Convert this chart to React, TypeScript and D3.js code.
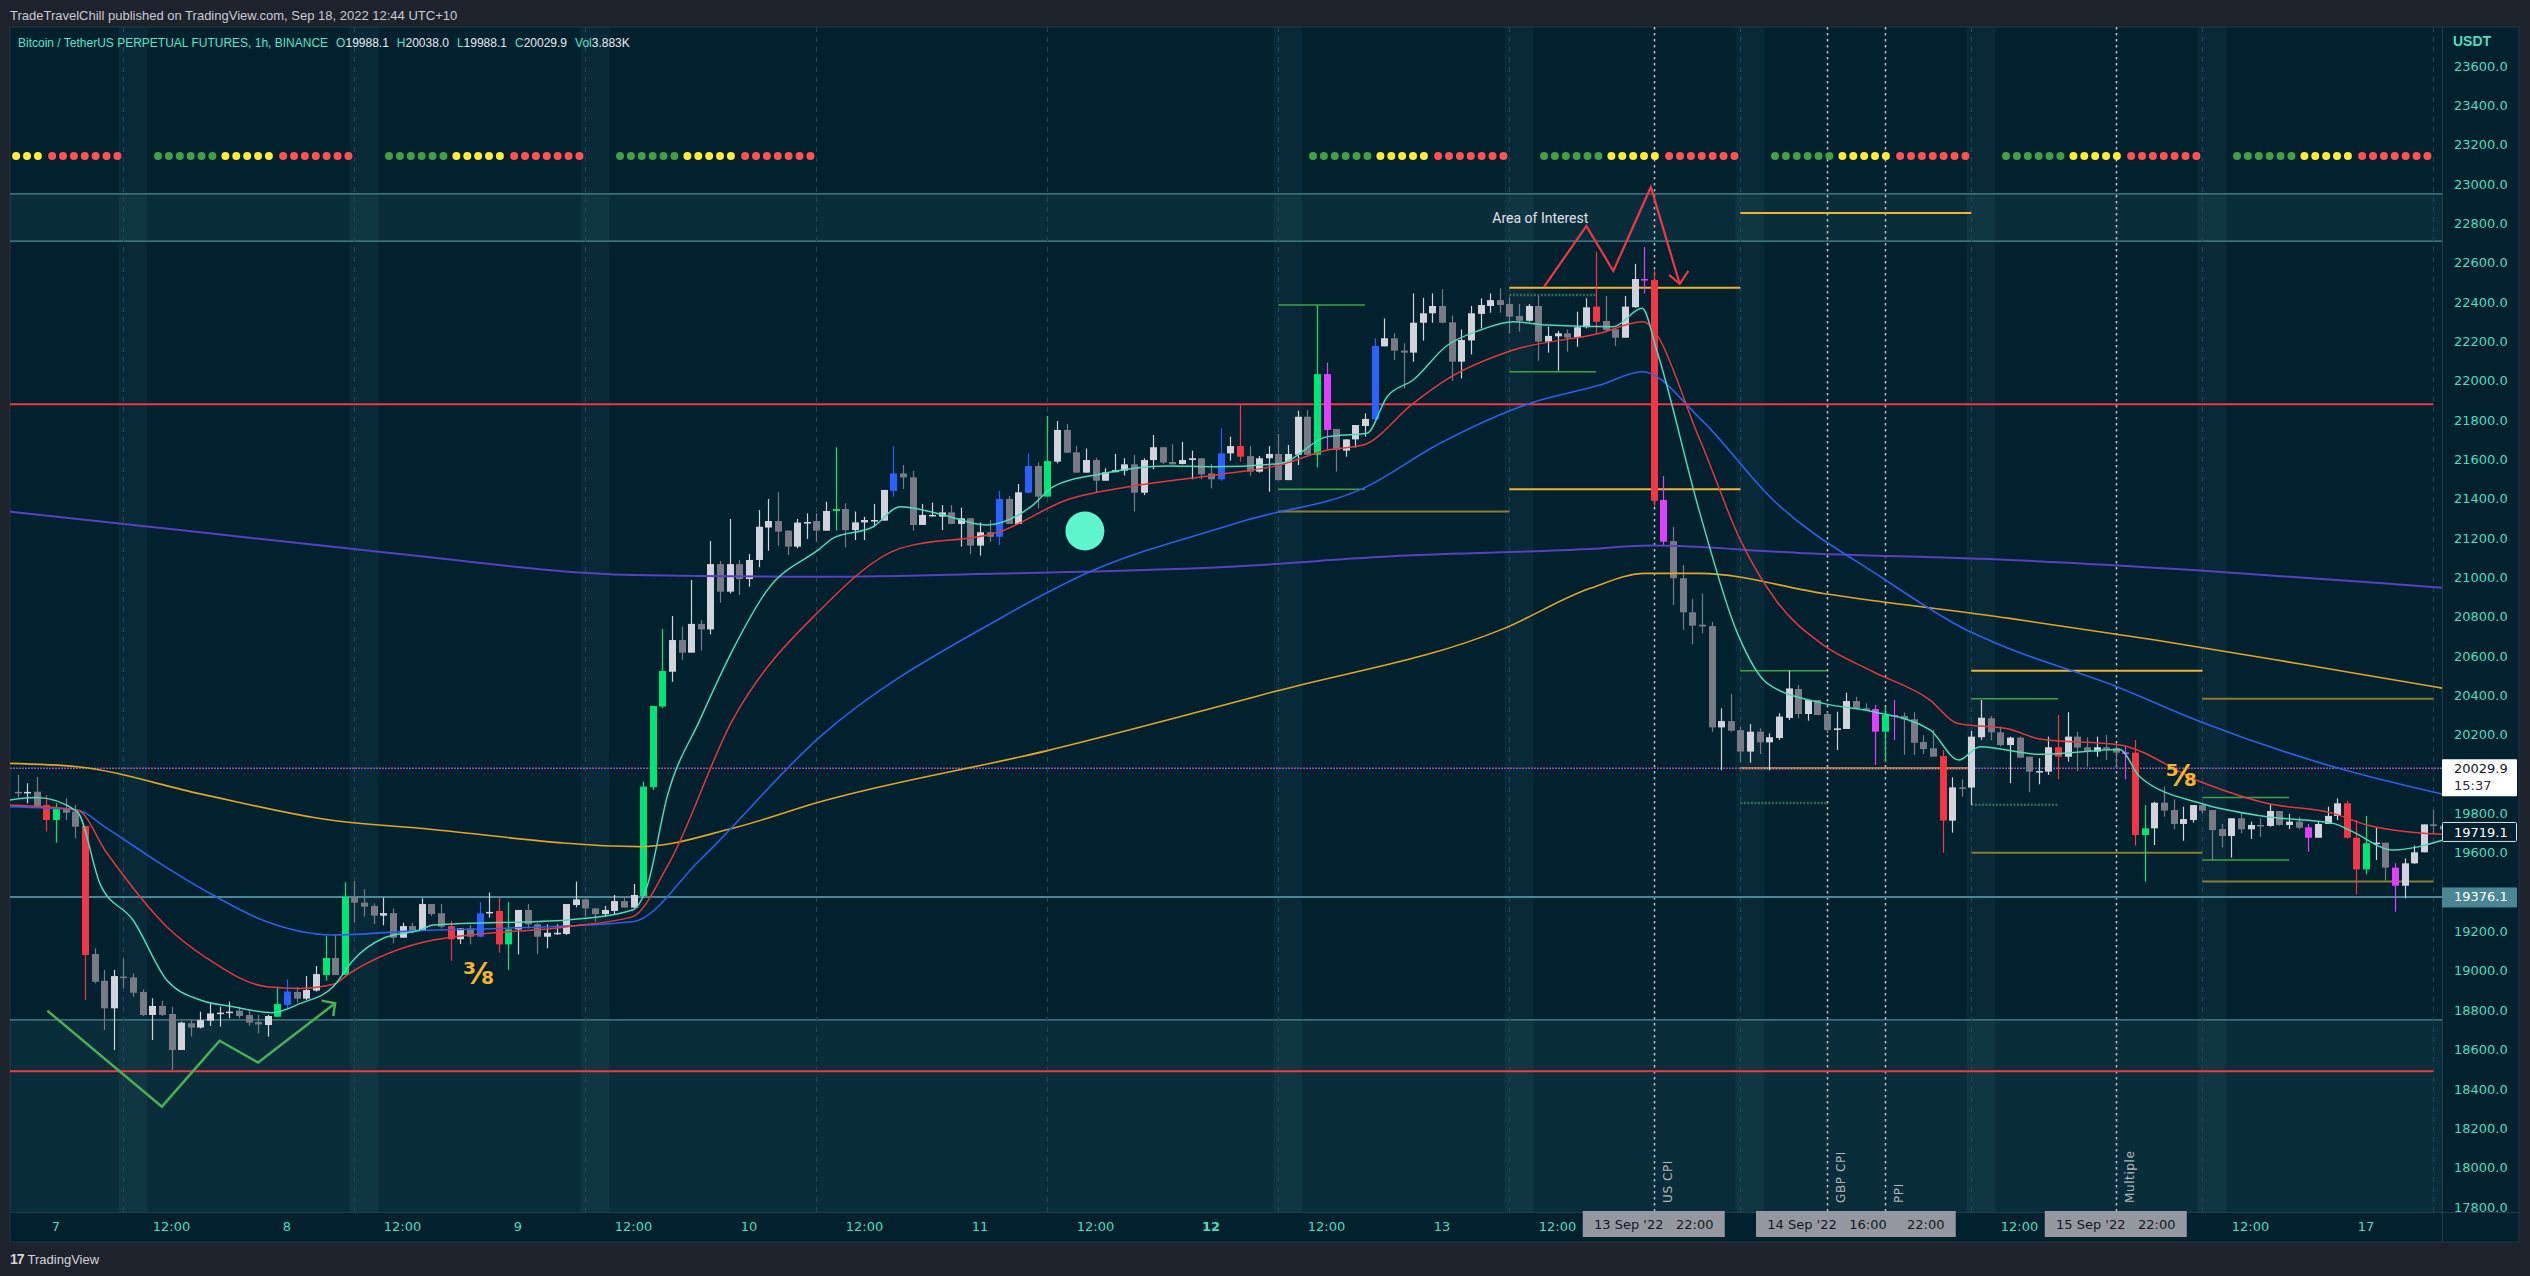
import { useEffect, useRef } from 'react';
import * as d3 from 'd3';

const W = 2530;
const H = 1276;

// hourly bars, first one is Sep 6 20:00 (hour -4 counted from Sep 7 00:00)
const FIRST_HOUR = -4;
// [open, high, low, close, kind]  w = up, g = down, R/G/B/M = highlighted bars
const candles: [number, number, number, number, string][] = [
  [19910, 19996, 19880, 19905, 'g'], [19904, 19954, 19852, 19910, 'w'], [19911, 19987, 19835, 19835, 'g'], [19843, 19894, 19708, 19767, 'R'],
  [19767, 19852, 19652, 19826, 'G'], [19826, 19877, 19767, 19804, 'g'], [19810, 19843, 19674, 19733, 'g'], [19737, 19737, 18852, 19081, 'R'],
  [19086, 19115, 18937, 18945, 'g'], [18950, 19005, 18700, 18810, 'g'], [18810, 19005, 18598, 18974, 'w'], [18971, 19064, 18911, 18968, 'g'],
  [18967, 18988, 18869, 18889, 'g'], [18893, 18906, 18771, 18776, 'g'], [18776, 18861, 18649, 18822, 'w'], [18822, 18847, 18771, 18776, 'g'],
  [18781, 18818, 18496, 18598, 'g'], [18598, 18742, 18598, 18737, 'w'], [18734, 18750, 18666, 18712, 'g'], [18712, 18793, 18708, 18750, 'w'],
  [18747, 18835, 18720, 18784, 'w'], [18786, 18818, 18717, 18788, 'w'], [18790, 18844, 18759, 18793, 'w'], [18798, 18818, 18759, 18771, 'g'],
  [18776, 18798, 18720, 18737, 'g'], [18740, 18776, 18683, 18728, 'g'], [18725, 18776, 18666, 18771, 'w'], [18767, 18920, 18767, 18832, 'G'],
  [18827, 18957, 18810, 18895, 'B'], [18893, 18920, 18839, 18859, 'g'], [18859, 18974, 18852, 18903, 'w'], [18900, 19025, 18895, 18984, 'w'],
  [18979, 19177, 18950, 19066, 'G'], [19066, 19186, 18979, 18979, 'g'], [18979, 19450, 18979, 19377, 'G'], [19377, 19457, 19245, 19347, 'g'],
  [19347, 19415, 19276, 19327, 'g'], [19330, 19343, 19238, 19281, 'g'], [19281, 19372, 19232, 19294, 'w'], [19294, 19318, 19140, 19169, 'g'],
  [19169, 19245, 19169, 19228, 'w'], [19228, 19245, 19191, 19203, 'g'], [19205, 19369, 19205, 19340, 'w'], [19340, 19340, 19279, 19289, 'g'],
  [19293, 19340, 19216, 19225, 'g'], [19228, 19255, 19052, 19161, 'R'], [19161, 19216, 19137, 19216, 'w'], [19216, 19233, 19135, 19174, 'g'],
  [19174, 19350, 19171, 19293, 'B'], [19293, 19399, 19271, 19300, 'w'], [19305, 19372, 19093, 19135, 'R'], [19135, 19350, 19005, 19211, 'G'],
  [19211, 19310, 19084, 19310, 'w'], [19310, 19340, 19216, 19237, 'g'], [19237, 19242, 19086, 19174, 'g'], [19174, 19237, 19115, 19194, 'w'],
  [19190, 19237, 19183, 19194, 'w'], [19188, 19340, 19183, 19340, 'w'], [19335, 19454, 19323, 19364, 'w'], [19364, 19369, 19276, 19318, 'g'],
  [19318, 19318, 19250, 19289, 'g'], [19289, 19330, 19276, 19310, 'w'], [19305, 19386, 19288, 19355, 'w'], [19355, 19377, 19322, 19322, 'g'],
  [19322, 19442, 19322, 19386, 'w'], [19381, 19962, 19381, 19937, 'G'], [19934, 20347, 19920, 20347, 'G'], [20344, 20738, 20335, 20525, 'G'],
  [20521, 20804, 20470, 20682, 'w'], [20682, 20750, 20581, 20618, 'g'], [20618, 20987, 20618, 20764, 'w'], [20764, 20784, 20628, 20736, 'g'],
  [20736, 21185, 20711, 21068, 'w'], [21068, 21084, 20872, 20928, 'g'], [20928, 21297, 20919, 21068, 'w'], [21068, 21089, 20911, 20992, 'g'],
  [20992, 21119, 20953, 21089, 'w'], [21089, 21343, 21052, 21258, 'w'], [21254, 21399, 21136, 21287, 'w'], [21287, 21433, 21162, 21233, 'g'],
  [21238, 21240, 21114, 21157, 'g'], [21157, 21297, 21148, 21279, 'w'], [21278, 21326, 21196, 21282, 'w'], [21287, 21326, 21182, 21238, 'g'],
  [21238, 21385, 21238, 21338, 'w'], [21338, 21662, 21238, 21348, 'G'], [21348, 21377, 21153, 21241, 'g'], [21241, 21335, 21190, 21280, 'w'],
  [21280, 21309, 21190, 21292, 'w'], [21289, 21374, 21258, 21292, 'w'], [21289, 21445, 21289, 21445, 'w'], [21440, 21668, 21411, 21529, 'B'],
  [21529, 21572, 21450, 21509, 'g'], [21509, 21541, 21238, 21267, 'g'], [21267, 21374, 21267, 21318, 'w'], [21313, 21381, 21309, 21318, 'w'],
  [21309, 21368, 21241, 21331, 'w'], [21331, 21368, 21272, 21272, 'g'], [21272, 21355, 21157, 21301, 'w'], [21301, 21301, 21119, 21162, 'g'],
  [21162, 21280, 21111, 21230, 'w'], [21230, 21292, 21182, 21207, 'g'], [21207, 21440, 21165, 21399, 'B'], [21399, 21414, 21272, 21272, 'g'],
  [21272, 21475, 21272, 21433, 'w'], [21431, 21631, 21428, 21567, 'B'], [21567, 21585, 21351, 21411, 'g'], [21411, 21821, 21411, 21592, 'G'],
  [21589, 21795, 21580, 21750, 'w'], [21750, 21780, 21634, 21634, 'g'], [21636, 21668, 21533, 21533, 'g'], [21533, 21656, 21533, 21597, 'w'],
  [21597, 21609, 21433, 21492, 'g'], [21492, 21555, 21492, 21535, 'w'], [21535, 21628, 21535, 21546, 'w'], [21543, 21606, 21518, 21575, 'w'],
  [21575, 21623, 21335, 21431, 'g'], [21431, 21606, 21419, 21597, 'w'], [21597, 21724, 21550, 21662, 'w'], [21662, 21662, 21577, 21584, 'g'],
  [21587, 21677, 21575, 21575, 'g'], [21577, 21689, 21575, 21597, 'w'], [21597, 21645, 21499, 21606, 'w'], [21606, 21606, 21499, 21524, 'g'],
  [21529, 21577, 21453, 21499, 'g'], [21499, 21758, 21492, 21631, 'B'], [21631, 21716, 21594, 21668, 'w'], [21668, 21877, 21589, 21614, 'R'],
  [21617, 21668, 21517, 21538, 'g'], [21538, 21617, 21533, 21606, 'w'], [21606, 21668, 21436, 21628, 'w'], [21628, 21729, 21495, 21495, 'g'],
  [21495, 21673, 21495, 21628, 'w'], [21624, 21848, 21572, 21817, 'w'], [21817, 21851, 21624, 21624, 'g'], [21624, 22385, 21560, 22034, 'G'],
  [22034, 22092, 21651, 21750, 'M'], [21755, 21755, 21538, 21648, 'g'], [21645, 21702, 21614, 21702, 'w'], [21702, 21775, 21661, 21775, 'w'],
  [21770, 21834, 21716, 21806, 'w'], [21804, 22216, 21800, 22177, 'B'], [22175, 22317, 22175, 22216, 'w'], [22216, 22241, 22105, 22153, 'g'],
  [22153, 22190, 21961, 22143, 'g'], [22143, 22444, 22097, 22295, 'w'], [22295, 22422, 22204, 22343, 'w'], [22343, 22444, 22295, 22380, 'w'],
  [22380, 22465, 22292, 22295, 'g'], [22297, 22331, 22000, 22097, 'g'], [22097, 22261, 22012, 22207, 'w'], [22205, 22380, 22134, 22343, 'w'],
  [22340, 22419, 22266, 22385, 'w'], [22380, 22444, 22346, 22410, 'w'], [22410, 22470, 22346, 22385, 'g'], [22390, 22427, 22241, 22326, 'g'],
  [22329, 22390, 22250, 22305, 'g'], [22305, 22390, 22300, 22380, 'w'], [22380, 22431, 22102, 22199, 'g'], [22199, 22275, 22143, 22228, 'w'],
  [22226, 22254, 22051, 22241, 'w'], [22241, 22261, 22148, 22219, 'g'], [22219, 22351, 22173, 22272, 'w'], [22272, 22419, 22266, 22373, 'w'],
  [22377, 22656, 22238, 22300, 'R'], [22304, 22431, 22250, 22258, 'g'], [22262, 22262, 22177, 22219, 'g'], [22219, 22431, 22219, 22377, 'w'],
  [22374, 22594, 22370, 22517, 'w'], [22517, 22680, 22444, 22510, 'M'], [22512, 22560, 21360, 21390, 'R'], [21394, 21516, 21165, 21182, 'M'],
  [21185, 21258, 20860, 20996, 'g'], [20996, 21063, 20733, 20823, 'g'], [20823, 20891, 20660, 20755, 'g'], [20760, 20919, 20716, 20751, 'g'],
  [20753, 20775, 20216, 20238, 'g'], [20238, 20335, 20020, 20270, 'w'], [20270, 20408, 20216, 20221, 'g'], [20224, 20242, 20060, 20115, 'g'],
  [20115, 20255, 20059, 20216, 'w'], [20216, 20233, 20103, 20162, 'g'], [20162, 20208, 20020, 20188, 'w'], [20184, 20310, 20174, 20293, 'w'],
  [20286, 20526, 20275, 20436, 'w'], [20433, 20453, 20284, 20306, 'g'], [20306, 20377, 20272, 20377, 'w'], [20377, 20377, 20301, 20301, 'g'],
  [20306, 20318, 20208, 20225, 'g'], [20225, 20318, 20123, 20233, 'w'], [20230, 20415, 20230, 20372, 'w'], [20372, 20394, 20330, 20335, 'g'],
  [20335, 20360, 20326, 20330, 'g'], [20331, 20352, 20047, 20216, 'M'], [20216, 20343, 20064, 20301, 'G'], [20301, 20377, 20174, 20294, 'M'],
  [20296, 20313, 20098, 20279, 'g'], [20279, 20315, 20098, 20160, 'g'], [20164, 20199, 20103, 20128, 'g'], [20132, 20225, 20089, 20089, 'g'],
  [20092, 20123, 19601, 19764, 'R'], [19764, 19984, 19703, 19933, 'w'], [19933, 19974, 19886, 19930, 'g'], [19932, 20220, 19844, 20191, 'w'],
  [20188, 20377, 20174, 20287, 'w'], [20284, 20296, 20174, 20213, 'g'], [20213, 20242, 20140, 20148, 'g'], [20148, 20191, 19954, 20186, 'w'],
  [20186, 20191, 20084, 20084, 'g'], [20089, 20089, 19908, 20013, 'g'], [20013, 20081, 19949, 20016, 'w'], [20013, 20191, 19996, 20137, 'w'],
  [20137, 20301, 19974, 20089, 'R'], [20089, 20315, 20064, 20191, 'w'], [20191, 20216, 20016, 20135, 'g'], [20137, 20187, 20038, 20115, 'g'],
  [20115, 20191, 20089, 20137, 'w'], [20137, 20199, 20072, 20128, 'g'], [20133, 20148, 20038, 20110, 'g'], [20111, 20140, 19974, 20106, 'M'],
  [20110, 20174, 19637, 19691, 'R'], [19691, 19843, 19454, 19725, 'G'], [19725, 19860, 19640, 19855, 'w'], [19855, 19937, 19784, 19815, 'g'],
  [19818, 19872, 19721, 19747, 'g'], [19747, 19835, 19662, 19772, 'w'], [19767, 19843, 19754, 19843, 'w'], [19843, 19855, 19801, 19815, 'g'],
  [19818, 19818, 19564, 19716, 'g'], [19721, 19747, 19627, 19686, 'g'], [19686, 19776, 19576, 19776, 'w'], [19776, 19805, 19700, 19720, 'g'],
  [19720, 19759, 19671, 19742, 'w'], [19742, 19776, 19682, 19737, 'g'], [19737, 19849, 19733, 19813, 'w'], [19813, 19813, 19738, 19742, 'g'],
  [19742, 19798, 19721, 19759, 'w'], [19759, 19784, 19721, 19728, 'g'], [19730, 19747, 19606, 19677, 'M'], [19677, 19759, 19677, 19747, 'w'],
  [19747, 19835, 19747, 19788, 'w'], [19788, 19877, 19767, 19852, 'w'], [19852, 19865, 19671, 19677, 'R'], [19677, 19767, 19389, 19516, 'R'],
  [19516, 19788, 19491, 19649, 'G'], [19649, 19730, 19564, 19652, 'w'], [19652, 19652, 19459, 19525, 'g'], [19525, 19547, 19301, 19433, 'M'],
  [19433, 19572, 19369, 19547, 'w'], [19547, 19637, 19544, 19603, 'w'], [19603, 19745, 19603, 19745, 'w'], [19745, 19818, 19700, 19737, 'g'],
  [19737, 19760, 19700, 19719, 'g'],
];

// moving averages, [hour, price]
const emaFast: [number, number][] = [
  [-4.8, 19869], [-2, 19881], [2.2, 19810], [4.6, 19440], [8, 19259], [11.5, 18954], [15, 18852], [18.4, 18818], [22.5, 18788],
  [25.4, 18835], [28.8, 18920], [30.9, 19056], [34, 19166], [37.8, 19208], [39.2, 19233], [53.1, 19259], [59.9, 19310], [61.4, 19428],
  [63.5, 19886], [66.9, 20276], [70.3, 20631], [73.9, 20936], [79.4, 21148], [80.7, 21199], [84.9, 21258], [87.7, 21360], [91.8, 21323],
  [96.7, 21267], [101.5, 21368], [103.6, 21462], [108.5, 21526], [115.4, 21567], [120.2, 21563], [127.2, 21580], [132.1, 21716],
  [136.2, 21733], [138.3, 21919], [141, 22004], [144.5, 22178], [148, 22258], [151.4, 22300], [154.9, 22283], [161.8, 22275],
  [164.8, 22368], [166.3, 22156], [170.8, 21326], [174.7, 20716], [177.8, 20462], [183.6, 20360], [188.8, 20318], [194.7, 20225],
  [197.7, 20072], [199.9, 20140], [206.1, 20101], [214.4, 20126], [216.5, 19987], [222.8, 19852], [229.7, 19784], [236.6, 19750],
  [238.6, 19708], [242.8, 19615], [248, 19665],
];
const emaMid: [number, number][] = [
  [-4.8, 19843], [2.2, 19818], [5.3, 19598], [11.5, 19225], [15.7, 19064], [21.9, 18920], [25.4, 18911], [28.8, 18932], [30.5, 18988],
  [39.2, 19157], [53.1, 19225], [59.9, 19276], [63.5, 19530], [70.3, 20276], [79.4, 20835], [87.7, 21148], [98.1, 21233], [105, 21394],
  [111.9, 21465], [120.9, 21524], [127.2, 21572], [132.1, 21648], [135.8, 21673], [141, 21885], [144.5, 22007], [151.4, 22156],
  [160.4, 22241], [164.8, 22300], [170.8, 21699], [175, 21190], [178.8, 20877], [183.6, 20657], [188.8, 20521], [194.7, 20377],
  [197.5, 20259], [203, 20228], [206.1, 20179], [214.4, 20149], [222.8, 19962], [229.7, 19852], [236.6, 19801], [240.1, 19742], [248, 19694],
];
const emaSlow: [number, number][] = [
  [-4.8, 19835], [2.2, 19818], [5.3, 19725], [10.8, 19547], [16.3, 19386], [21.9, 19250], [28.8, 19183], [37.8, 19205], [46.1, 19216],
  [59.9, 19250], [66.9, 19564], [79.4, 20191], [97.8, 20784], [107.7, 21035], [120.9, 21250], [123.7, 21292], [135.8, 21453],
  [143.8, 21682], [153.1, 21885], [160.4, 21978], [164.8, 22046], [170.8, 21809], [178.4, 21394], [189.8, 20996], [198.5, 20733],
  [202, 20657], [214.1, 20445], [222.8, 20267], [236.6, 20038], [248, 19898],
];
const maLong: [number, number][] = [
  [-4.8, 21335], [15, 21230], [35.7, 21119], [60, 21013], [79.4, 21004], [98, 21020], [120.9, 21052], [139.6, 21110], [159.4, 21145],
  [165.7, 21162], [181, 21125], [203, 21089], [222.8, 21035], [241.4, 20972], [248, 20947],
];
const maGold: [number, number][] = [
  [-4.8, 20055], [2.2, 20038], [15, 19900], [28.5, 19767], [37.8, 19725], [60.7, 19632], [70.3, 19725], [79.4, 19860], [103, 20120],
  [126.6, 20420], [150.4, 20740], [159.4, 20945], [165.1, 21021], [170.8, 21021], [183.6, 20919], [203, 20792], [218.1, 20682],
  [233.2, 20560], [248, 20437],
];

// price ticks
const priceTicks = d3.range(17800, 23601, 200);
// time axis: day numbers (Sep)
const tickDays = [7, 8, 9, 10, 11, 12, 13, 14, 15, 16, 17];
const weekdaySessions = [7, 8, 9, 12, 13, 14, 15, 16];

// zones and horizontal lines
const zoneTop = [22710, 22950];
const zoneBottom = [17600, 18751];
const redLevels = [21880, 18490];
const supportLevel = 19376.1;
const lastPrice = 20029.9;
const markPrice = 19719.1;

// session levels: [fromHour, toHour, price, kind]
const sessionLevels: [number, number, number, string][] = [
  [127, 136, 22385, 'g'], [127, 136, 21448, 'g'], [127, 151, 21335, 'd'],
  [151, 175, 22473, 'o'], [151, 160, 22436, 'gd'], [151, 160, 22046, 'g'], [151, 175, 21448, 'o'],
  [175, 199, 22853, 'o'], [175, 184, 20526, 'g'], [175, 184, 19854, 'gd'], [175, 199, 20030, 'o'],
  [199, 223, 20526, 'o'], [199, 208, 20384, 'g'], [199, 208, 19845, 'gd'], [199, 223, 19601, 'd'],
  [223, 247, 20384, 'd'], [223, 232, 19882, 'g'], [223, 232, 19564, 'g'], [223, 247, 19454, 'd'],
];

// events (vertical dotted lines)
const events = [
  { hour: 166, name: 'US CPI', date: "13 Sep '22", time: '22:00' },
  { hour: 184, name: 'GBP CPI', date: "14 Sep '22", time: '16:00' },
  { hour: 190, name: 'PPI', date: "14 Sep '22", time: '22:00' },
  { hour: 214, name: 'Multiple', date: "15 Sep '22", time: '22:00' },
];

// indicator dot row
const dotDays = [6, 7, 8, 9, 12, 13, 14, 15, 16];
const dotGroups = [
  { offset: 10.6, count: 6, color: '#43a047' },
  { offset: 17.6, count: 5, color: '#ffeb3b' },
  { offset: 23.6, count: 7, color: '#ff5252' },
];
const DOT_STEP = 1.13;

// drawings: [hour, price]
const zigzag: [number, number][] = [[-0.9, 18798], [11, 18310], [17, 18645], [21, 18534], [29, 18836]];
const zigzagHead: [number, number][] = [[27.6, 18849], [29, 18836], [28.8, 18771]];
const aoiPath: [number, number][] = [[154.6, 22477], [159, 22787], [161.8, 22558], [165.7, 22985], [168.7, 22492]];
const aoiHead: [number, number][] = [[167.6, 22538], [168.7, 22492], [169.6, 22559]];
const circleMark: [number, number] = [106.9, 21236];
const fractions = [
  { hour: 43.9, price: 18989, text: '⅜' },
  { hour: 220.8, price: 19991, text: '⅝' },
];

const candleColors: Record<string, string> = {
  w: '#d1d4dc', g: '#787b86', R: '#f23645', G: '#00e676', B: '#2962ff', M: '#e040fb',
};
const levelStyle: Record<string, { c: string; w: number; dash?: string }> = {
  o: { c: '#f0b232', w: 2 },
  d: { c: '#8c7c32', w: 2 },
  g: { c: '#43a047', w: 1.5 },
  gd: { c: '#2f6b55', w: 2.5, dash: '2 1.5' },
};

const App = () => {
  const svgRef = useRef<SVGSVGElement>(null);

  useEffect(() => {
    const svg = d3.select(svgRef.current);
    svg.selectAll('*').remove();

    const L = 10, R = 2442, T = 27, B = 1212, AX = 2519, TB = 1242;
    const x = d3.scaleLinear().domain([0, 248]).range([56, 56 + 248 * 9.625]);
    const y = d3.scaleLinear().domain([17800, 23600]).range([1207, 66]);
    const axisFont = 'DejaVu Sans, Verdana, sans-serif';
    const uiFont = 'Liberation Sans, Arial, sans-serif';

    svg.append('rect').attr('width', W).attr('height', H).attr('fill', '#1e222d');
    svg.append('rect').attr('x', L).attr('y', T).attr('width', AX - L).attr('height', TB - T)
      .attr('fill', '#01212f').attr('stroke', '#27323e');

    const defs = svg.append('defs');
    defs.append('clipPath').attr('id', 'plot')
      .append('rect').attr('x', L).attr('y', T).attr('width', R - L).attr('height', B - T);
    defs.append('clipPath').attr('id', 'paxis')
      .append('rect').attr('x', R).attr('y', T).attr('width', AX - R).attr('height', B - T);

    const g = svg.append('g').attr('clip-path', 'url(#plot)');

    // session shading (weekdays 07:00-10:00)
    weekdaySessions.forEach(d => {
      const h = (d - 7) * 24 + 7;
      g.append('rect').attr('x', x(h - 0.5)).attr('y', T).attr('width', x(h + 2.5) - x(h - 0.5)).attr('height', B - T)
        .attr('fill', 'rgba(80,125,140,0.10)');
    });

    // zones
    [zoneTop, zoneBottom].forEach(z => {
      g.append('rect').attr('x', L).attr('width', R - L).attr('y', y(z[1])).attr('height', y(z[0]) - y(z[1]))
        .attr('fill', 'rgba(74,135,150,0.13)');
      z.forEach(p => g.append('line').attr('x1', L).attr('x2', R).attr('y1', y(p)).attr('y2', y(p))
        .attr('stroke', '#4f8892').attr('stroke-width', 1.2));
    });

    // daily dashed separators at 07:00
    tickDays.forEach(d => {
      const xx = Math.round(x((d - 7) * 24 + 7)) + 0.5;
      g.append('line').attr('x1', xx).attr('x2', xx).attr('y1', T).attr('y2', B)
        .attr('stroke', '#244654').attr('stroke-dasharray', '5 5');
    });

    // event lines
    events.forEach(e => {
      const xx = Math.round(x(e.hour)) + 0.5;
      g.append('line').attr('x1', xx).attr('x2', xx).attr('y1', T).attr('y2', B)
        .attr('stroke', '#c3c6ce').attr('stroke-width', 1.5).attr('stroke-dasharray', '2.5 3.5');
      g.append('text').attr('transform', `translate(${xx + 17},${B - 9}) rotate(-90)`)
        .attr('font-family', axisFont).attr('font-size', 12).attr('letter-spacing', 0.6)
        .attr('fill', '#b2b5be').text(e.name);
    });

    // horizontal levels
    redLevels.forEach(p => g.append('line').attr('x1', L).attr('x2', x(247)).attr('y1', y(p)).attr('y2', y(p))
      .attr('stroke', '#f23645').attr('stroke-width', 2));
    g.append('line').attr('x1', L).attr('x2', R).attr('y1', y(supportLevel)).attr('y2', y(supportLevel))
      .attr('stroke', '#4a8693').attr('stroke-width', 2);

    sessionLevels.forEach(([a, b, p, k]) => {
      const s = levelStyle[k];
      const ln = g.append('line').attr('x1', x(a)).attr('x2', x(b)).attr('y1', y(p)).attr('y2', y(p))
        .attr('stroke', s.c).attr('stroke-width', s.w);
      if (s.dash) ln.attr('stroke-dasharray', s.dash);
    });

    // last price dotted line
    g.append('line').attr('x1', L).attr('x2', R).attr('y1', y(lastPrice)).attr('y2', y(lastPrice))
      .attr('stroke', '#f23645').attr('stroke-width', 1.5).attr('stroke-dasharray', '2 4');
    g.append('line').attr('x1', L).attr('x2', R).attr('y1', y(lastPrice)).attr('y2', y(lastPrice))
      .attr('stroke', '#3d6bff').attr('stroke-width', 1.5).attr('stroke-dasharray', '2 4').attr('stroke-dashoffset', 3);

    // candles
    candles.forEach((c, i) => {
      const [o, hi, lo, cl, k] = c;
      const cx = Math.round(x(FIRST_HOUR + i));
      const col = candleColors[k];
      g.append('line').attr('x1', cx + 0.5).attr('x2', cx + 0.5).attr('y1', y(hi)).attr('y2', y(lo))
        .attr('stroke', col).attr('stroke-width', 1.2);
      const top = y(Math.max(o, cl));
      const bot = y(Math.min(o, cl));
      g.append('rect').attr('x', cx - 3).attr('y', top).attr('width', 7).attr('height', Math.max(1.5, bot - top))
        .attr('fill', col);
    });

    // moving averages
    const line = d3.line<[number, number]>().x(d => x(d[0])).y(d => y(d[1])).curve(d3.curveMonotoneX);
    const mas: [[number, number][], string, number][] = [
      [maLong, '#5a3fc0', 2], [maGold, '#e3a526', 1.6], [emaSlow, '#2f5fe8', 1.6], [emaMid, '#e5373f', 1.5], [emaFast, '#4fd9b6', 1.5],
    ];
    mas.forEach(([data, col, w]) => {
      g.append('path').attr('d', line(data)).attr('fill', 'none').attr('stroke', col).attr('stroke-width', w);
    });

    // indicator dots
    dotDays.forEach(d => dotGroups.forEach(grp => {
      for (let j = 0; j < grp.count; j++) {
        const h = (d - 7) * 24 + grp.offset + j * DOT_STEP;
        g.append('circle').attr('cx', x(h)).attr('cy', 156).attr('r', 4).attr('fill', grp.color);
      }
    }));

    // drawings
    const straight = d3.line<[number, number]>().x(d => x(d[0])).y(d => y(d[1]));
    g.append('path').attr('d', straight(zigzag)).attr('fill', 'none').attr('stroke', '#4caf50').attr('stroke-width', 2.5);
    g.append('path').attr('d', straight(zigzagHead)).attr('fill', 'none').attr('stroke', '#4caf50').attr('stroke-width', 2.5);
    g.append('path').attr('d', straight(aoiPath)).attr('fill', 'none').attr('stroke', '#f23645').attr('stroke-width', 2.2);
    g.append('path').attr('d', straight(aoiHead)).attr('fill', 'none').attr('stroke', '#f23645').attr('stroke-width', 2.2);
    g.append('text').attr('x', x(159.2)).attr('y', y(22826)).attr('dy', '0.35em').attr('text-anchor', 'end')
      .attr('font-family', 'Roboto, sans-serif').attr('font-size', 14).attr('fill', '#e0e3eb').text('Area of Interest');
    g.append('circle').attr('cx', x(circleMark[0])).attr('cy', y(circleMark[1])).attr('r', 19.5).attr('fill', '#5ff5cf');
    fractions.forEach(f => g.append('text').attr('x', x(f.hour)).attr('y', y(f.price)).attr('dy', '0.35em')
      .attr('text-anchor', 'middle').attr('font-family', axisFont).attr('font-weight', 'bold').attr('font-size', 30)
      .attr('fill', '#f5b531').text(f.text));

    // legend, one flowing line so pieces never collide
    const legend = svg.append('text').attr('x', 18).attr('y', 47).attr('font-family', uiFont).attr('font-size', 12);
    legend.append('tspan').attr('fill', '#5ce1c6').text('Bitcoin / TetherUS PERPETUAL FUTURES, 1h, BINANCE');
    const ohlc: [string, string][] = [['O', '19988.1'], ['H', '20038.0'], ['L', '19988.1'], ['C', '20029.9'], ['Vol', '3.883K']];
    ohlc.forEach(([k, v]) => {
      legend.append('tspan').attr('dx', 8).attr('fill', '#5ce1c6').text(k);
      legend.append('tspan').attr('fill', '#e8eaef').text(v);
    });

    // axis separators
    svg.append('line').attr('x1', R + 0.5).attr('x2', R + 0.5).attr('y1', T).attr('y2', TB).attr('stroke', '#1f3c48');
    svg.append('line').attr('x1', L).attr('x2', AX).attr('y1', B + 0.5).attr('y2', B + 0.5).attr('stroke', '#1f3c48');

    // price axis; ticks under a price label box are covered in the original, so they are left out
    const labelBands: [number, number][] = [
      [y(lastPrice) - 9, y(lastPrice) + 28],
      [y(supportLevel) - 10, y(supportLevel) + 10],
      [y(markPrice) - 7, y(markPrice) + 12],
    ];
    const covered = (yy: number) => labelBands.some(([a, b]) => yy + 6 > a && yy - 6 < b);
    const pa = svg.append('g').attr('clip-path', 'url(#paxis)').attr('font-family', axisFont).attr('font-size', 13);
    priceTicks.filter(p => !covered(y(p))).forEach(p => pa.append('text').attr('x', 2454).attr('y', y(p)).attr('dy', '0.35em')
      .attr('fill', '#4fdcbd').text(p.toFixed(1)));
    pa.append('text').attr('x', 2453).attr('y', 46).attr('fill', '#4fdcbd').attr('font-weight', 'bold')
      .attr('font-family', uiFont).attr('font-size', 14).text('USDT');

    pa.append('rect').attr('x', R).attr('y', y(supportLevel) - 9.5).attr('width', 75).attr('height', 20).attr('fill', '#4a8693');
    pa.append('text').attr('x', 2454).attr('y', y(supportLevel)).attr('dy', '0.35em').attr('fill', '#ffffff').text(supportLevel.toFixed(1));

    pa.append('rect').attr('x', R).attr('y', y(lastPrice) - 9).attr('width', 75).attr('height', 37).attr('rx', 1).attr('fill', '#ffffff');
    pa.append('text').attr('x', 2454).attr('y', y(lastPrice)).attr('dy', '0.35em').attr('fill', '#131722').text(lastPrice.toFixed(1));
    pa.append('text').attr('x', 2454).attr('y', y(lastPrice) + 17).attr('dy', '0.35em').attr('fill', '#2a2e39').text('15:37');

    pa.append('rect').attr('x', R + 0.5).attr('y', y(markPrice) - 7).attr('width', 74).attr('height', 19).attr('rx', 1)
      .attr('fill', '#01212f').attr('stroke', '#e0e3eb');
    pa.append('text').attr('x', 2454).attr('y', y(markPrice) + 2.5).attr('dy', '0.35em').attr('fill', '#ffffff').text(markPrice.toFixed(1));

    // event date boxes on the time axis, one per date
    const boxes = d3.groups(events, e => e.date).map(([date, evs]) => ({
      date,
      evs,
      x0: x(evs[0].hour) - 71,
      x1: x(evs[evs.length - 1].hour) + 71,
    }));

    // time axis
    const ta = svg.append('g').attr('font-family', axisFont).attr('font-size', 13).attr('fill', '#4fdcbd')
      .attr('text-anchor', 'middle');
    const hidden = (xx: number) => boxes.some(b => xx > b.x0 - 20 && xx < b.x1 + 20);
    tickDays.forEach(d => {
      const h0 = (d - 7) * 24;
      if (x(h0) < R - 20 && !hidden(x(h0))) {
        ta.append('text').attr('x', x(h0)).attr('y', 1231).attr('font-weight', d === 12 ? 'bold' : 'normal').text(String(d));
      }
      if (x(h0 + 12) < R - 20 && !hidden(x(h0 + 12))) ta.append('text').attr('x', x(h0 + 12)).attr('y', 1231).text('12:00');
    });
    boxes.forEach(b => {
      const bx = svg.append('g').attr('font-family', axisFont).attr('font-size', 13).attr('fill', '#131722')
        .attr('text-anchor', 'middle');
      bx.append('rect').attr('x', b.x0).attr('y', 1211).attr('width', b.x1 - b.x0).attr('height', 26).attr('fill', '#9598a1');
      bx.append('text').attr('x', x(b.evs[0].hour) - 25).attr('y', 1229).text(b.date);
      b.evs.forEach(e => bx.append('text').attr('x', x(e.hour) + 41).attr('y', 1229).text(e.time));
    });

    // header & footer
    svg.append('text').attr('x', 10).attr('y', 20).attr('font-family', uiFont).attr('font-size', 13)
      .attr('fill', '#c9ccd4').text('TradeTravelChill published on TradingView.com, Sep 18, 2022 12:44 UTC+10');
    const foot = svg.append('text').attr('x', 10).attr('y', 1264).attr('font-family', uiFont).attr('fill', '#d1d4dc');
    foot.append('tspan').attr('font-weight', 'bold').attr('font-size', 14).attr('letter-spacing', -1).text('17');
    foot.append('tspan').attr('dx', 4).attr('font-size', 13).text('TradingView');
  }, []);

  return (
    <svg ref={svgRef} width={W} height={H} style={{ position: 'absolute', left: 0, top: 0, display: 'block' }} />
  );
};

export default App;
